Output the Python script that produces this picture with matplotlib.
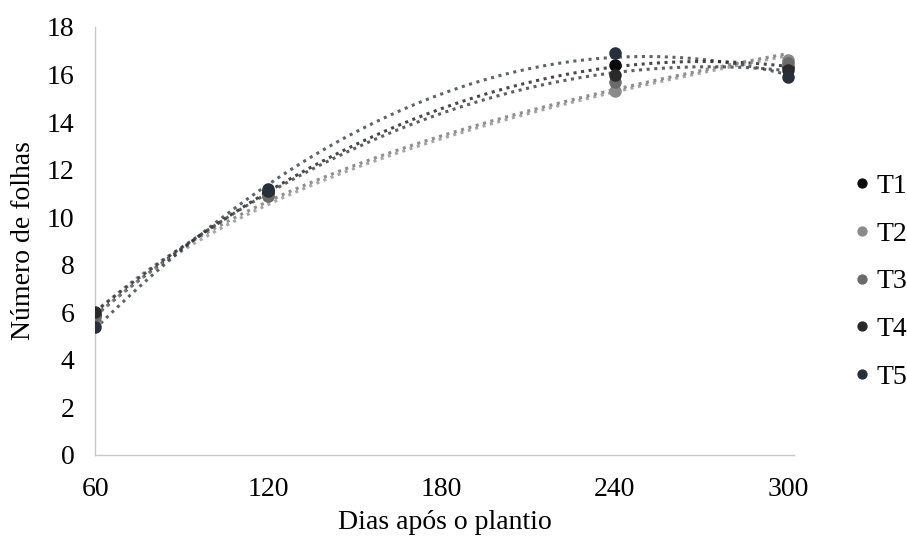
import numpy as np
import matplotlib
matplotlib.use("Agg")
from matplotlib import pyplot as plt

plt.rcParams['font.family'] = ['Liberation Serif', 'DejaVu Serif']

# dias apos o plantio
dias = [60, 120, 240, 300]

t1 = [5.9, 11.0, 16.4, 16.3]
t2 = [5.6, 10.9, 15.3, 16.6]
t3 = [5.8, 10.9, 15.7, 16.5]
t4 = [6.0, 11.1, 16.0, 16.2]
t5 = [5.4, 11.2, 16.9, 15.9]

nomes = ['T1', 'T2', 'T3', 'T4', 'T5']
cores = ['#0a0a0a', '#8a8a8a', '#6a6a6a', '#2a2a2a', '#26303a']
# tipo de linha de tendencia (excel): polinomial 2 ou logaritmica
tendencia = ['poly', 'log', 'log', 'poly', 'poly']

xticks = [60, 120, 180, 240, 300]
yticks = [0, 2, 4, 6, 8, 10, 12, 14, 16, 18]

fig = plt.figure(figsize=(9.07, 5.39), dpi=100)
ax = fig.add_axes([0.105, 0.156, 0.77, 0.794])

xs = np.linspace(60, 300, 200)
for serie, nome, cor, tipo in zip([t1, t2, t3, t4, t5], nomes, cores, tendencia):
    if tipo == 'log':
        coef = np.polyfit(np.log(dias), serie, 1)
        ys = np.polyval(coef, np.log(xs))
    else:
        coef = np.polyfit(dias, serie, 2)
        ys = np.polyval(coef, xs)
    ax.plot(xs, ys, linestyle=(0, (1, 1.5)), color=cor,
            alpha=0.75, linewidth=2.2, zorder=2)
    ax.plot(dias, serie, 'o', color=cor, markersize=8, label=nome, zorder=3)

ax.set_xlim(60, 302)
ax.set_ylim(0, 18)
ax.set_xticks(xticks)
ax.set_yticks(yticks)
ax.tick_params(length=0, labelsize=20, pad=15)
ax.tick_params(axis='x', pad=16)

for s in ['top', 'right']:
    ax.spines[s].set_visible(False)
for s in ['left', 'bottom']:
    ax.spines[s].set_color('#c8c8c8')
    ax.spines[s].set_linewidth(1.0)

ax.set_xlabel('Dias após o plantio', fontsize=20, labelpad=6)
ax.set_ylabel('Número de folhas', fontsize=20, labelpad=8)

ax.legend(loc='center left', bbox_to_anchor=(1.0, 0.405), frameon=False,
          fontsize=20, handlelength=0.5, handletextpad=0.3,
          labelspacing=0.8, markerscale=0.8, borderaxespad=1.8)

fig.savefig('out.png', dpi=100)
